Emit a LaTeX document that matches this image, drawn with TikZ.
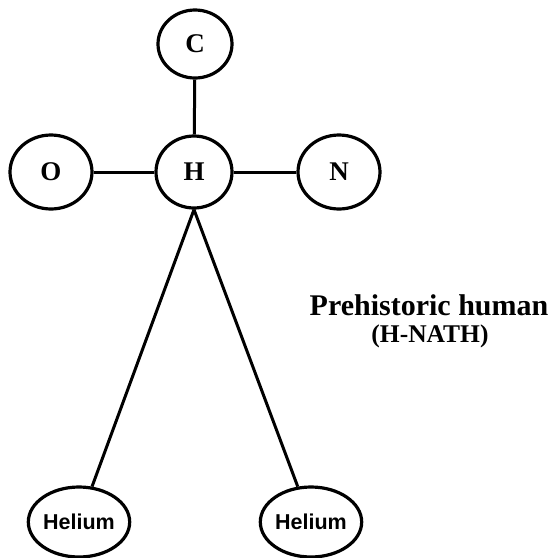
\documentclass[tikz,border=0pt]{standalone}
\usepackage{fontspec}
\setmainfont{Liberation Serif}
\newfontfamily\helv{Liberation Sans}
\usetikzlibrary{shapes.geometric}
\begin{document}
\begin{tikzpicture}[x=1pt,y=-1pt,
  atom/.style={draw, line width=3.2pt, ellipse, inner sep=0pt, font=\bfseries\fontsize{27}{27}\selectfont},
  he/.style={draw, line width=3.2pt, ellipse, inner sep=0pt, minimum width=84pt, minimum height=70pt, font=\helv\bfseries\fontsize{21.5}{21.5}\selectfont},
  bond/.style={line width=3pt}]
\useasboundingbox (0,0) rectangle (557,558);
\node[atom, minimum width=74pt, minimum height=68pt] (nC) at (195,44) {C};
\node[atom, minimum width=76pt, minimum height=72pt] (nH) at (194,172) {H};
\node[atom, minimum width=82pt, minimum height=74pt] (nO) at (51,172) {O};
\node[atom, minimum width=82pt, minimum height=74pt] (nN) at (339,172) {N};
\node[he] (he1) at (79,522) {Helium};
\node[he] (he2) at (311,522) {Helium};
\draw[bond] (nC) -- (nH);
\draw[bond] (nO) -- (nH);
\draw[bond] (nH) -- (nN);
\draw[bond] (nH.south) -- (he1);
\draw[bond] (nH.south) -- (he2);
\node[font=\bfseries\fontsize{30}{30}\selectfont, anchor=base] (title) at (429,315) {Prehistoric human};
\node[font=\bfseries\fontsize{25.5}{25.5}\selectfont, anchor=base] (sub) at (430,342) {(H-NATH)};
\end{tikzpicture}
\end{document}
